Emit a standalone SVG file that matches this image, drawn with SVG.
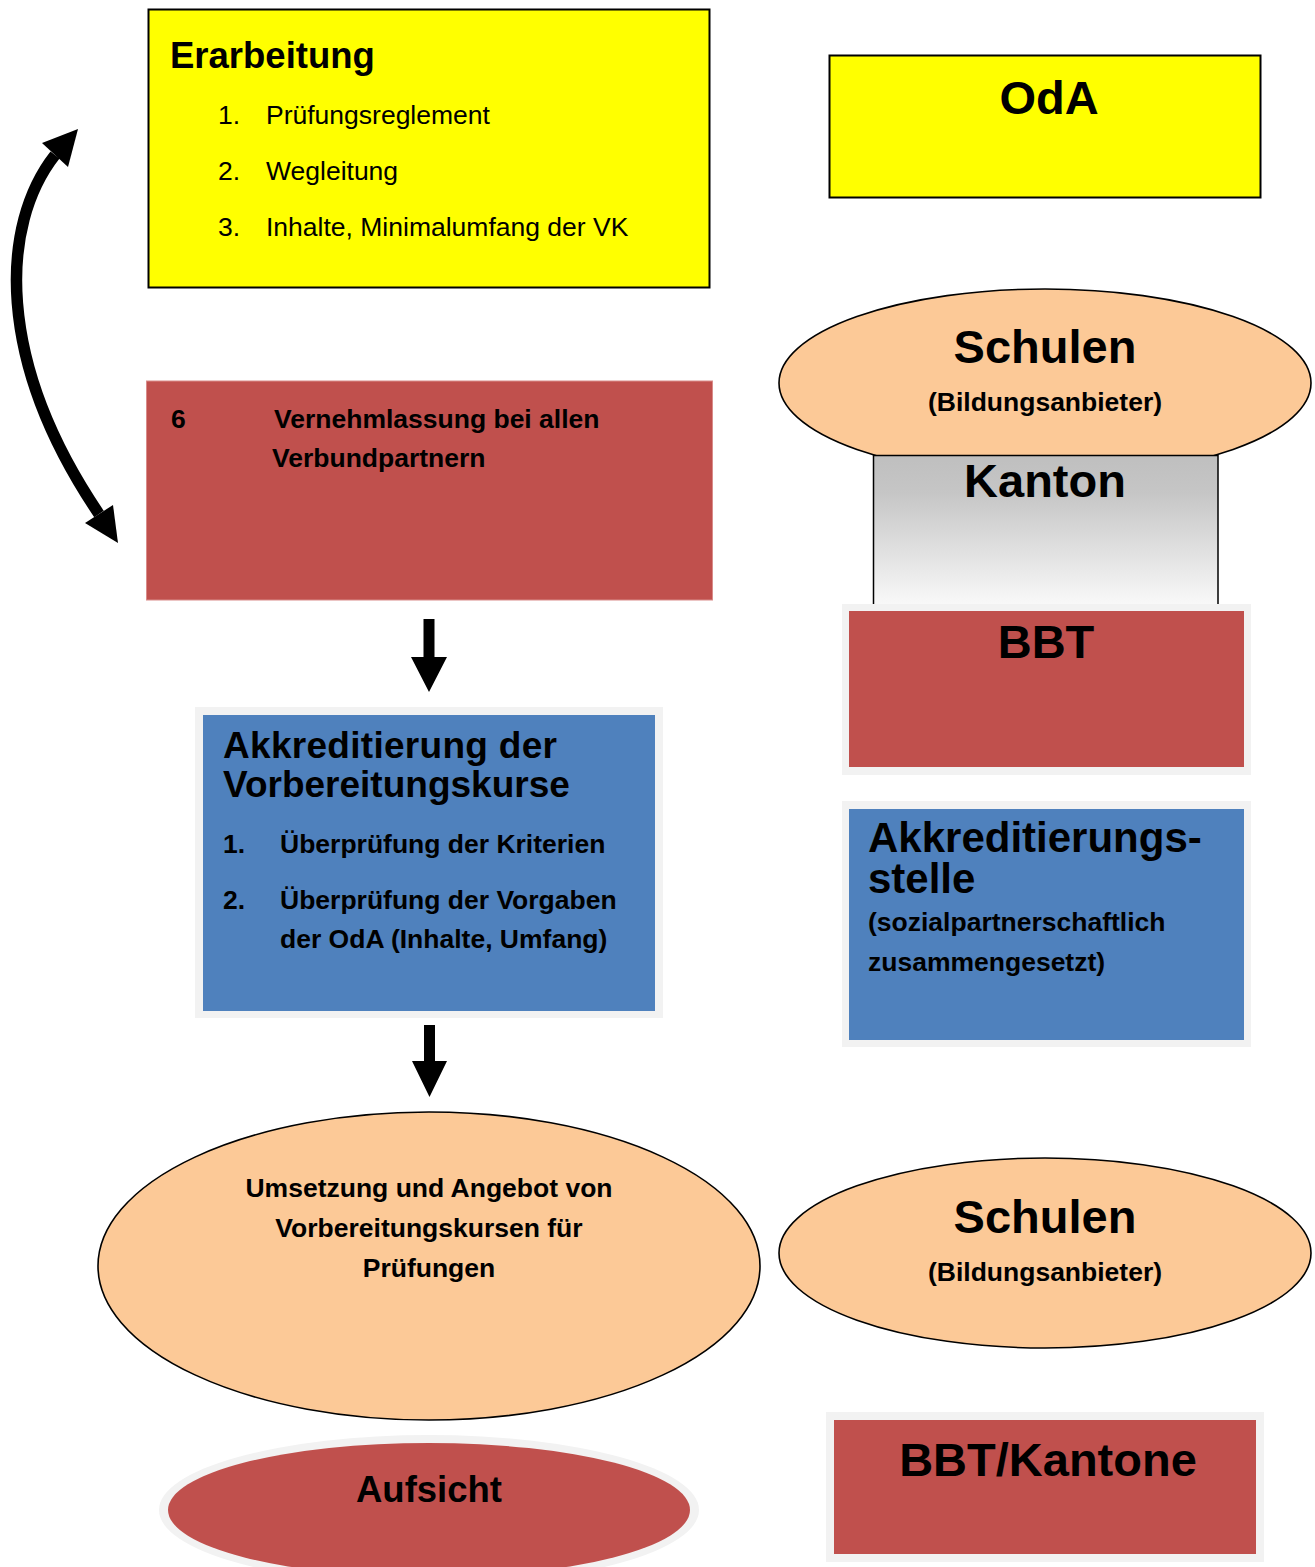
<svg xmlns="http://www.w3.org/2000/svg" width="1315" height="1567" viewBox="0 0 1315 1567">
<defs>
<linearGradient id="kantonGrad" x1="0" y1="0" x2="0" y2="1">
<stop offset="0" stop-color="#bfbfbf"/>
<stop offset="0.25" stop-color="#c6c6c6"/>
<stop offset="1" stop-color="#fafafa"/>
</linearGradient>
<style>
text{font-family:"Liberation Sans",Arial,sans-serif;fill:#000}
.b{font-weight:bold}
.reg{font-weight:normal;font-size:26.5px}
.s26{font-size:26.5px}
.s36{font-size:36.5px}
.s47{font-size:47px}
.mid{text-anchor:middle}
.yellow{fill:#ffff00;stroke:#000;stroke-width:2}
.red{fill:#c0504d}
.blue{fill:#4f81bd}
.peach{fill:#fcc997;stroke:#000;stroke-width:1.6}
.frame{fill:#f2f2f2}
.arrow{fill:#000}
</style>
</defs>
<rect width="1315" height="1567" fill="#fff"/>

<g id="node-erarbeitung">
<rect class="yellow" x="148.5" y="9.5" width="561" height="278"/>
<text class="b s36" x="170" y="68">Erarbeitung</text>
<text class="reg" x="218" y="124">1.</text>
<text class="reg" x="266" y="124">Prüfungsreglement</text>
<text class="reg" x="218" y="180">2.</text>
<text class="reg" x="266" y="180">Wegleitung</text>
<text class="reg" x="218" y="236">3.</text>
<text class="reg" x="266" y="236">Inhalte, Minimalumfang der VK</text>
</g>

<g id="node-oda">
<rect class="yellow" x="829.5" y="55.5" width="431" height="142"/>
<text class="b mid" style="font-size:47px" x="1049" y="114">OdA</text>
</g>

<g id="node-vernehmlassung">
<rect class="red" x="146.5" y="381" width="566" height="219" stroke="#d98c8a" stroke-width="1"/>
<text class="b s26" x="171" y="428">6</text>
<text class="b s26" x="274" y="428">Vernehmlassung bei allen</text>
<text class="b s26" x="272" y="467">Verbundpartnern</text>
</g>

<g id="node-schulen-kanton">
<ellipse class="peach" cx="1045" cy="383" rx="266" ry="94"/>
<text class="b mid s47" x="1045" y="363">Schulen</text>
<text class="b mid s26" x="1045" y="411">(Bildungsanbieter)</text>
<rect x="873.5" y="455.5" width="344.5" height="152" fill="url(#kantonGrad)" stroke="#000" stroke-width="1.5"/>
<text class="b mid s47" x="1045" y="497">Kanton</text>
</g>

<g id="node-bbt">
<rect class="frame" x="842" y="604" width="409" height="171"/>
<rect class="red" x="849" y="611" width="395" height="156"/>
<text class="b mid s47" x="1046" y="658">BBT</text>
</g>

<g id="node-akkreditierung">
<rect class="frame" x="195" y="707" width="468" height="311"/>
<rect class="blue" x="203" y="715" width="452" height="296"/>
<text class="b" style="font-size:37px"><tspan x="223" y="758" textLength="334" lengthAdjust="spacing">Akkreditierung der</tspan><tspan x="223" y="797">Vorbereitungskurse</tspan></text>
<text class="b s26" x="223" y="853">1.</text>
<text class="b s26" x="280" y="853">Überprüfung der Kriterien</text>
<text class="b s26" x="223" y="909">2.</text>
<text class="b s26" x="280" y="909">Überprüfung der Vorgaben</text>
<text class="b s26" x="280" y="948">der OdA (Inhalte, Umfang)</text>
</g>

<g id="node-akkreditierungsstelle">
<rect class="frame" x="842" y="801" width="409" height="246"/>
<rect class="blue" x="849" y="809" width="395" height="231"/>
<text class="b" style="font-size:42px"><tspan x="868" y="852">Akkreditierungs-</tspan><tspan x="868" y="893">stelle</tspan></text>
<text class="b s26" x="868" y="931">(sozialpartnerschaftlich</text>
<text class="b s26" x="868" y="971">zusammengesetzt)</text>
</g>

<g id="node-umsetzung">
<ellipse class="peach" cx="429" cy="1266" rx="331" ry="154"/>
<text class="b mid s26" x="429" y="1197">Umsetzung und Angebot von</text>
<text class="b mid s26" x="429" y="1237">Vorbereitungskursen für</text>
<text class="b mid s26" x="429" y="1277">Prüfungen</text>
</g>

<g id="node-schulen2">
<ellipse class="peach" cx="1045" cy="1253" rx="266" ry="95"/>
<text class="b mid s47" x="1045" y="1233">Schulen</text>
<text class="b mid s26" x="1045" y="1281">(Bildungsanbieter)</text>
</g>

<g id="node-aufsicht">
<ellipse class="frame" cx="429" cy="1510" rx="270" ry="75"/>
<ellipse class="red" cx="429" cy="1510" rx="261" ry="67"/>
<text class="b mid s36" x="429" y="1502">Aufsicht</text>
</g>

<g id="node-bbt-kantone">
<rect class="frame" x="826" y="1412" width="438" height="150"/>
<rect class="red" x="834" y="1420" width="422" height="134"/>
<text class="b mid s47" x="1048" y="1476">BBT/Kantone</text>
</g>

<g id="connectors">
<path d="M55 155 C0 225 -5 360 99 514" fill="none" stroke="#000" stroke-width="11.5"/>
<polygon class="arrow" points="78,129 42,143 68,167"/>
<polygon class="arrow" points="118,543 85,523 113,505"/>
<polygon class="arrow" points="423.5,619 434.5,619 434.5,657 447,657 429,692 411,657 423.5,657"/>
<polygon class="arrow" points="424,1025 435,1025 435,1061 447,1061 429.5,1097 412,1061 424,1061"/>
</g>
</svg>
